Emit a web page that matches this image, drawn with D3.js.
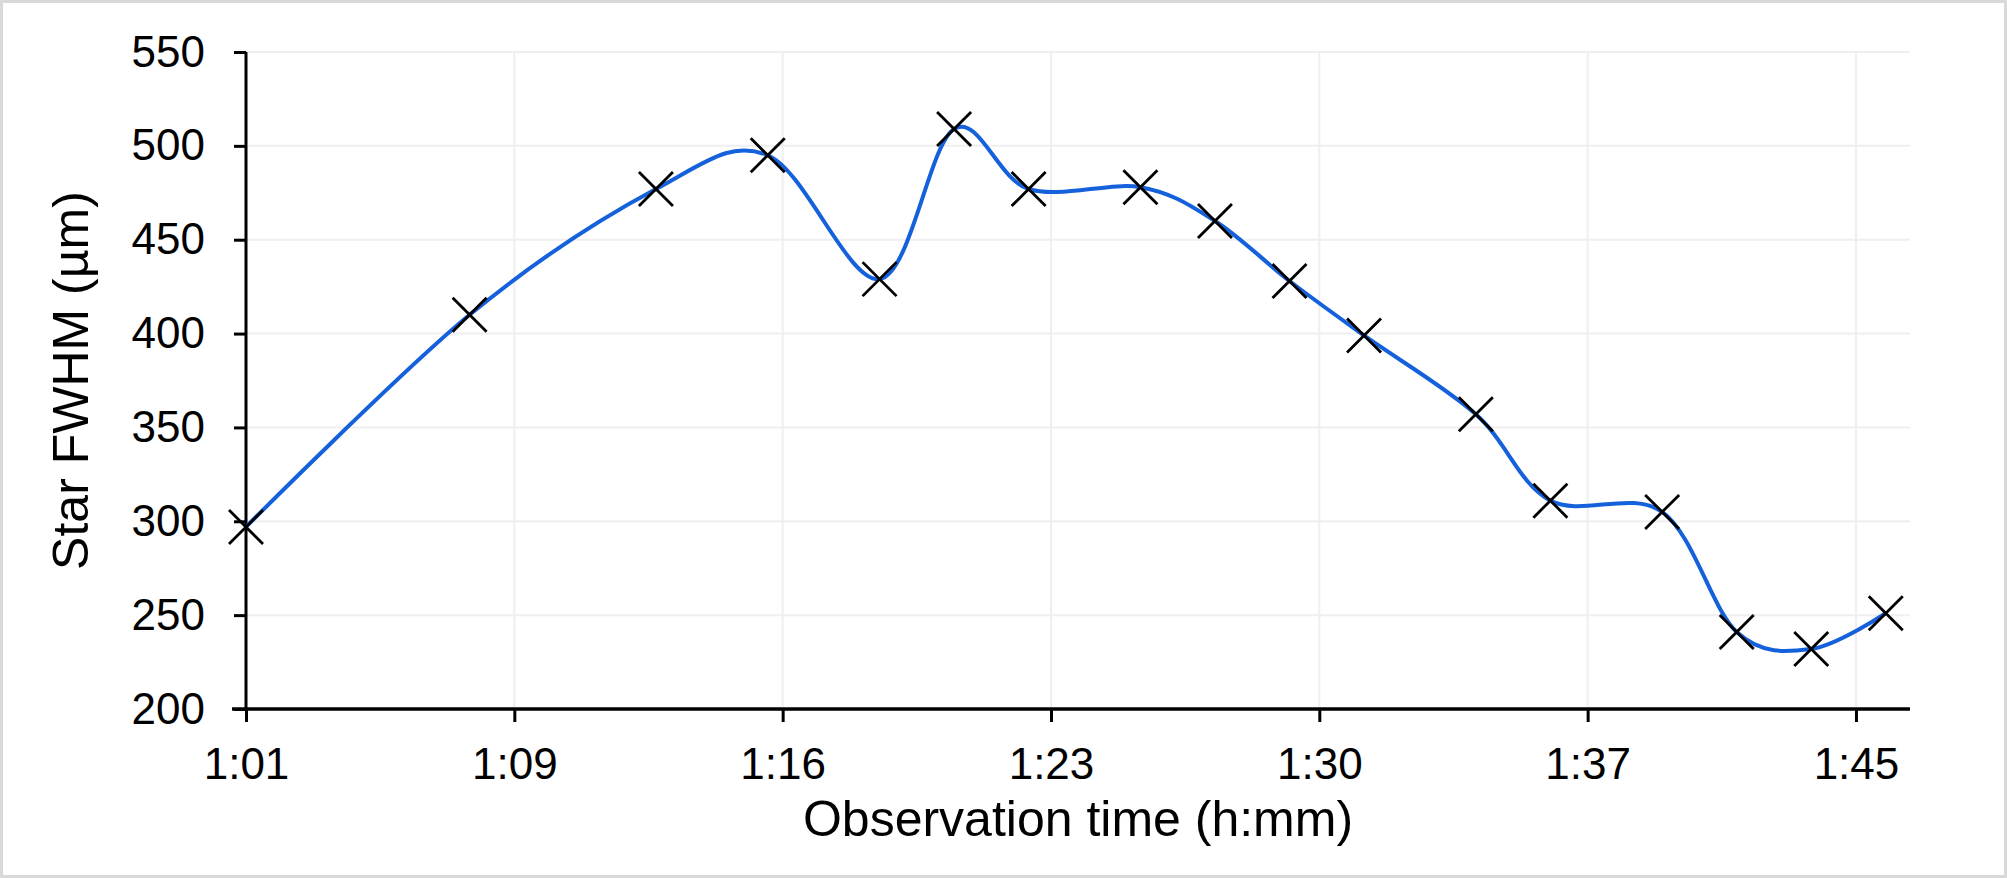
<!DOCTYPE html>
<html>
<head>
<meta charset="utf-8">
<script src="https://cdn.jsdelivr.net/npm/d3@7"></script>
<style>
  html, body { margin: 0; padding: 0; background: #fff; }
  text { font-family: "Liberation Sans", Arial, sans-serif; fill: #000; }
</style>
</head>
<body>
<div id="chart"></div>
<script>
// observation times (h:mm:ss) and star FWHM readings (µm)
const obsTimes = ["1:01:50", "1:07:50", "1:12:50", "1:15:50", "1:18:50", "1:20:50",
  "1:22:50", "1:25:50", "1:27:50", "1:29:50", "1:31:50", "1:34:50", "1:36:50",
  "1:39:50", "1:41:50", "1:43:50", "1:45:50"];
const fwhm = [297, 410, 477, 495, 429, 509, 477, 478, 460, 428, 399, 357, 311,
  305, 241, 232, 251];

// axis settings
const xAxisMin = "1:01:50";
const xAxisMax = "1:46:29";
const xMajorMinutes = 7.2;
const xTickLabels = ["1:01", "1:09", "1:16", "1:23", "1:30", "1:37", "1:45"];
const yTicks = [200, 250, 300, 350, 400, 450, 500, 550];

const width = 2007;
const height = 878;
const margin = {top: 52, right: 97, bottom: 169, left: 246};

// h:mm:ss -> minutes
const toMin = (s) => {
  const p = s.split(":").map(Number);
  return p[0] * 60 + p[1] + (p[2] || 0) / 60;
};

const data = obsTimes.map((t, i) => [toMin(t), fwhm[i]]);

const x = d3.scaleLinear()
  .domain([toMin(xAxisMin), toMin(xAxisMax)])
  .range([margin.left, width - margin.right]);

const y = d3.scaleLinear()
  .domain([200, 550])
  .range([height - margin.bottom, margin.top]);

const xTickVals = xTickLabels.map((d, i) => toMin(xAxisMin) + i * xMajorMinutes);

const svg = d3.select("#chart")
  .append("svg")
  .attr("width", width)
  .attr("height", height);

// outer frame
svg.append("rect")
  .attr("x", 1.5).attr("y", 1.5)
  .attr("width", width - 3).attr("height", height - 3)
  .attr("fill", "#fff")
  .attr("stroke", "#d9d9d9")
  .attr("stroke-width", 3);

// gridlines
svg.append("g")
  .selectAll("line")
  .data(yTicks.slice(1))
  .join("line")
  .attr("x1", margin.left).attr("x2", width - margin.right)
  .attr("y1", (d) => y(d)).attr("y2", (d) => y(d))
  .attr("stroke", "#efefef")
  .attr("stroke-width", 2);

svg.append("g")
  .selectAll("line")
  .data(xTickVals.slice(1))
  .join("line")
  .attr("x1", (d) => x(d)).attr("x2", (d) => x(d))
  .attr("y1", margin.top).attr("y2", height - margin.bottom)
  .attr("stroke", "#efefef")
  .attr("stroke-width", 2);

// axes
const yAxis = d3.axisLeft(y).tickValues(yTicks).tickSize(12).tickPadding(29);
const xAxis = d3.axisBottom(x).tickValues(xTickVals).tickSize(13).tickPadding(26)
  .tickFormat((d, i) => xTickLabels[i]);

const gy = svg.append("g")
  .attr("transform", "translate(" + margin.left + ",0)")
  .call(yAxis);
gy.select(".domain").remove();
gy.append("line")
  .attr("y1", margin.top).attr("y2", height - margin.bottom)
  .attr("stroke", "#000").attr("stroke-width", 3);
gy.selectAll(".tick line").attr("stroke-width", 3);
gy.selectAll(".tick text").style("font-size", "44px");

const gx = svg.append("g")
  .attr("transform", "translate(0," + (height - margin.bottom) + ")")
  .call(xAxis);
gx.select(".domain").remove();
gx.append("line")
  .attr("x1", margin.left - 14).attr("x2", width - margin.right)
  .attr("stroke", "#000").attr("stroke-width", 3.5);
gx.selectAll(".tick line").attr("stroke-width", 3);
gx.selectAll(".tick text").style("font-size", "44px");

// smoothed line
const line = d3.line()
  .x((d) => x(d[0]))
  .y((d) => y(d[1]))
  .curve(d3.curveCardinal.tension(0));

svg.append("path")
  .datum(data)
  .attr("d", line)
  .attr("fill", "none")
  .attr("stroke", "#1561dc")
  .attr("stroke-width", 4);

// x markers
const s = 17;
svg.append("g")
  .selectAll("path")
  .data(data)
  .join("path")
  .attr("transform", (d) => "translate(" + x(d[0]) + "," + y(d[1]) + ")")
  .attr("d", "M" + -s + "," + -s + "L" + s + "," + s + "M" + -s + "," + s + "L" + s + "," + -s)
  .attr("stroke", "#000")
  .attr("stroke-width", 2.8)
  .attr("fill", "none");

// axis titles
svg.append("text")
  .attr("x", (margin.left + width - margin.right) / 2)
  .attr("y", 836)
  .attr("text-anchor", "middle")
  .style("font-size", "50px")
  .text("Observation time (h:mm)");

svg.append("text")
  .attr("transform", "translate(88," + (margin.top + height - margin.bottom) / 2 + ") rotate(-90)")
  .attr("text-anchor", "middle")
  .style("font-size", "50px")
  .text("Star FWHM (µm)");
</script>
</body>
</html>
